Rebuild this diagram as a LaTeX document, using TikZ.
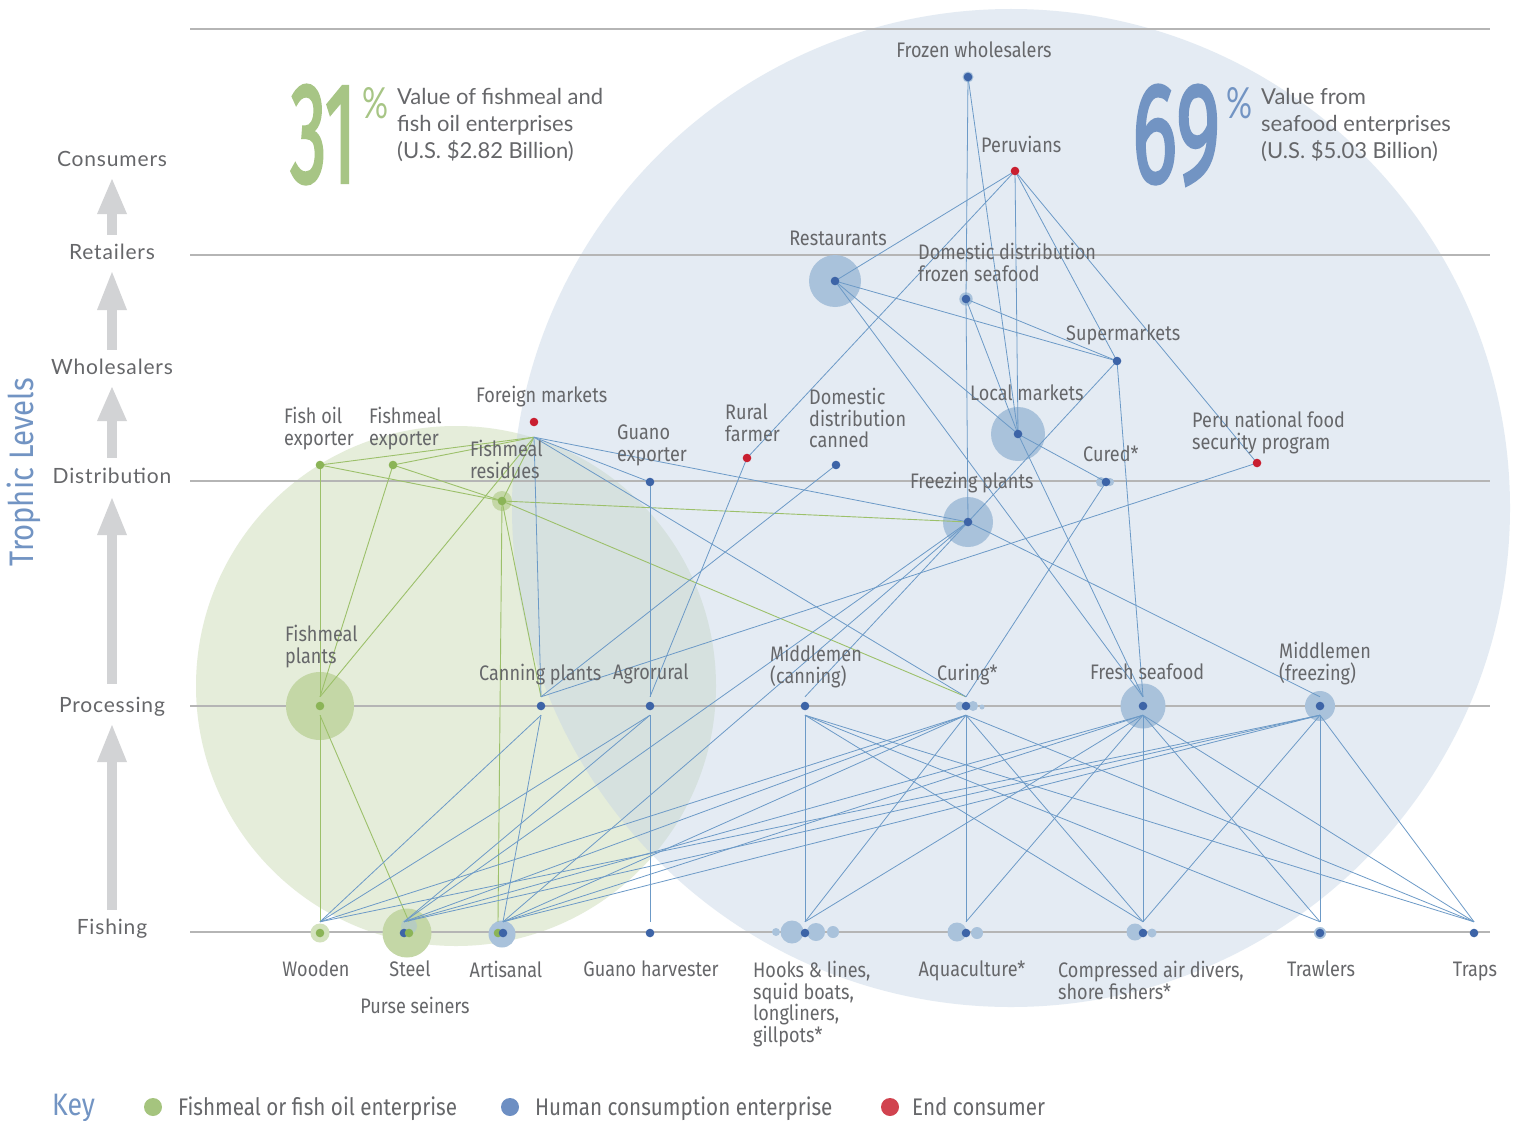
\documentclass[tikz,border=0pt]{standalone}
\usepackage{fontspec}
\setmainfont{Lato}
\newfontfamily\condf[FakeStretch=0.86]{Fira Sans}
\newfontfamily\numf[FakeBold=2.5]{Fira Sans}
\newfontfamily\levf[LetterSpace=4]{Lato}
\definecolor{txt}{HTML}{66676A}
\definecolor{gline}{HTML}{9CC06A}
\definecolor{bline}{HTML}{6C9AC7}
\definecolor{gdot}{HTML}{8BB457}
\definecolor{bdot}{HTML}{3D64A7}
\definecolor{rdot}{HTML}{C91F30}
\definecolor{gcirc}{HTML}{E5EDDA}
\definecolor{bcirc}{HTML}{C4D4E6}
\definecolor{ghalo}{HTML}{C4D7A6}
\definecolor{glight}{HTML}{D3E2BD}
\definecolor{bhalo}{HTML}{A9C2DB}
\definecolor{gridc}{HTML}{B5B5B5}
\definecolor{arrowc}{HTML}{D2D3D5}
\definecolor{numg}{HTML}{A7C585}
\definecolor{numb}{HTML}{7294C3}
\definecolor{keyg}{HTML}{A5C47E}
\definecolor{keyb}{HTML}{6D8FC3}
\definecolor{keyr}{HTML}{D1434F}
\pgfdeclarelayer{back}
\pgfdeclarelayer{halo}
\pgfdeclarelayer{edges}
\pgfsetlayers{back,halo,edges,main}
\newcommand\lvarrow[3]{% tip, head base, bottom
  \fill[arrowc] (107,#3) rectangle (117,#2);
  \fill[arrowc] (97,#2) -- (112,#1) -- (127,#2) -- cycle;}
\begin{document}
\begin{tikzpicture}[x=1pt,y=-1pt,
  hub/.style={circle,inner sep=0pt,minimum size=#1},
  lab/.style={font=\condf\fontsize{21}{21.5}\selectfont,text=txt,inner sep=0pt,align=left,anchor=north west,execute at begin node=\strut},
  labc/.style={lab,align=center,anchor=north},
  lev/.style={font=\levf\fontsize{21}{24}\selectfont,text=txt,inner sep=0pt,anchor=base},
  ge/.style={draw=gline,line width=0.9pt},
  be/.style={draw=bline,line width=0.8pt},
  gd/.style={fill=gdot},
  bd/.style={fill=bdot},
  rd/.style={fill=rdot},
  big/.style={inner sep=0pt,anchor=north west},
  toptext/.style={font=\fontsize{22}{27}\selectfont,text=txt,inner sep=0pt,align=left,anchor=north west,execute at begin node=\strut},
  keytext/.style={font=\condf\fontsize{24}{24}\selectfont,text=txt,inner sep=0pt,anchor=base west}
]
\useasboundingbox (0,0) rectangle (1517,1121);
\begin{pgfonlayer}{back}
\fill[white] (0,0) rectangle (1517,1121);
\fill[gcirc] (456,686) circle[radius=260pt];
\fill[bcirc,fill opacity=0.45] (1011,508) circle[radius=499pt];
\foreach \yy in {29,255,481,706,932} \draw[gridc,line width=1.1pt] (190,\yy) -- (1490,\yy);
\lvarrow{179}{214}{235}
\lvarrow{272}{310}{350}
\lvarrow{387}{421}{458}
\lvarrow{498}{535}{684}
\lvarrow{725}{762}{910}
\end{pgfonlayer}

% ---------- hubs (nodes) ----------
\node[hub=1pt] (frw) at (968,77) {};
\node[hub=1pt] (per) at (1015,171) {};
\node[hub=1pt] (rst) at (835,281) {};
\node[hub=1pt] (dfs) at (966,299) {};
\node[hub=1pt] (sup) at (1117,361) {};
\node[hub=1pt] (lmk) at (1018,434) {};
\node[hub=30pt] (fmk) at (534,422) {};
\node[hub=1pt] (foe) at (320,465) {};
\node[hub=1pt] (fme) at (393,465) {};
\node[hub=1pt] (res) at (502,501) {};
\node[hub=1pt] (gex) at (650,482) {};
\node[hub=1pt] (rfa) at (747,458) {};
\node[hub=1pt] (ddc) at (836,465) {};
\node[hub=1pt] (cur) at (1106,482) {};
\node[hub=1pt] (pnf) at (1257,463) {};
\node[hub=1pt] (frp) at (968,522) {};
\node[hub=18pt] (fmp) at (320,706) {};
\node[hub=18pt] (cnp) at (541,706) {};
\node[hub=18pt] (agr) at (650,706) {};
\node[hub=18pt] (mdc) at (805,706) {};
\node[hub=18pt] (crg) at (966,706) {};
\node[hub=18pt] (fsh) at (1143,706) {};
\node[hub=18pt] (mdf) at (1320,706) {};
\node[hub=22pt] (wod) at (320,933) {};
\node[hub=22pt] (stb) at (404,933) {};
\node[hub=22pt] (stg) at (409,933) {};
\node[hub=22pt] (arg) at (498,933) {};
\node[hub=22pt] (arb) at (503,933) {};
\node[hub=22pt] (gha) at (650,933) {};
\node[hub=22pt] (hoo) at (805,933) {};
\node[hub=22pt] (aqu) at (966,933) {};
\node[hub=22pt] (cad) at (1143,933) {};
\node[hub=22pt] (trw) at (1320,933) {};
\node[hub=22pt] (trp) at (1474,933) {};

% ---------- halos ----------
\begin{pgfonlayer}{halo}
\fill[ghalo] (fmp) circle[radius=34pt];
\fill[ghalo] (res) circle[radius=10pt];
\fill[glight] (wod) circle[radius=9.5pt];
\fill[ghalo] (407,933) circle[radius=24.5pt];
\fill[bhalo,fill opacity=0.5] (409,926) circle[radius=8pt];
\fill[bhalo] (502,934) circle[radius=13.5pt];
\fill[bhalo] (rst) circle[radius=26pt];
\fill[bhalo] (dfs) circle[radius=6.7pt];
\fill[bhalo] (frw) circle[radius=5.5pt];
\fill[bhalo] (lmk) circle[radius=27pt];
\fill[bhalo] (frp) circle[radius=25pt];
\fill[bhalo] (1101,482) circle[radius=5pt];
\fill[bhalo] (1110,482) circle[radius=4pt];
\fill[bhalo] (960,706) circle[radius=4.5pt];
\fill[bhalo] (973,706) circle[radius=5pt];
\fill[bhalo] (982,707) circle[radius=2.5pt];
\fill[bhalo] (fsh) circle[radius=22.5pt];
\fill[bhalo] (mdf) circle[radius=15pt];
\fill[bhalo] (776,932) circle[radius=4pt];
\fill[bhalo] (792,932) circle[radius=11.5pt];
\fill[bhalo] (816,932) circle[radius=9pt];
\fill[bhalo] (833,932) circle[radius=6pt];
\fill[bhalo] (957,932) circle[radius=9.5pt];
\fill[bhalo] (977,933) circle[radius=6pt];
\fill[bhalo] (1135,932) circle[radius=8.5pt];
\fill[bhalo] (1152,933) circle[radius=4.5pt];
\fill[bhalo] (trw) circle[radius=6pt];
\end{pgfonlayer}

% ---------- connectors ----------
\begin{pgfonlayer}{edges}
% fishmeal (green)
\draw[ge] (foe.center) -- (fmk.south);
\draw[ge] (foe.center) -- (res.center);
\draw[ge] (fme.center) -- (fmk.south);
\draw[ge] (fme.center) -- (res.center);
\draw[ge] (foe.center) -- (fmp.north);
\draw[ge] (fme.center) -- (fmp.north);
\draw[ge] (res.center) -- (fmk.south);
\draw[ge] (fmp.north) -- (fmk.south);
\draw[ge] (fmp.south) -- (wod.north);
\draw[ge] (fmp.south) -- (stg.north);
\draw[ge] (res.center) -- (arg.north);
\draw[ge] (res.center) -- (cnp.north);
\draw[ge] (res.center) -- (crg.north);
\draw[ge] (res.center) -- (frp.center);
% human consumption (blue)
\draw[be] (fmk.south) -- (gex.center);
\draw[be] (fmk.south) -- (frp.center);
\draw[be] (fmk.south) -- (crg.north);
\draw[be] (fmk.south) -- (cnp.north);
\draw[be] (gex.center) -- (agr.north);
\draw[be] (agr.south) -- (gha.north);
\draw[be] (rfa.center) -- (per.center);
\draw[be] (rfa.center) -- (agr.north);
\draw[be] (ddc.center) -- (cnp.north);
\draw[be] (pnf.center) -- (cnp.north);
\draw[be] (pnf.center) -- (per.center);
\draw[be] (frw.center) -- (dfs.center);
\draw[be] (frw.center) -- (lmk.center);
\draw[be] (per.center) -- (rst.center);
\draw[be] (per.center) -- (lmk.center);
\draw[be] (per.center) -- (sup.center);
\draw[be] (rst.center) -- (sup.center);
\draw[be] (rst.center) -- (lmk.center);
\draw[be] (rst.center) -- (fsh.north);
\draw[be] (dfs.center) -- (lmk.center);
\draw[be] (dfs.center) -- (sup.center);
\draw[be] (dfs.center) -- (frp.center);
\draw[be] (sup.center) -- (frp.center);
\draw[be] (sup.center) -- (fsh.north);
\draw[be] (lmk.center) -- (cur.center);
\draw[be] (lmk.center) -- (fsh.north);
\draw[be] (cur.center) -- (crg.north);
\draw[be] (frp.center) -- (mdc.north);
\draw[be] (frp.center) -- (stb.north);
\draw[be] (frp.center) -- (arb.north);
\draw[be] (frp.center) -- (mdf.north);
% processing -> fishing
\draw[be] (cnp.south) -- (wod.north);
\draw[be] (cnp.south) -- (arb.north);
\draw[be] (agr.south) -- (wod.north);
\draw[be] (agr.south) -- (stb.north);
\foreach \f in {wod,stb,arb,hoo,aqu,cad,trp} \draw[be] (crg.south) -- (\f.north);
\foreach \f in {stb,arb,hoo,aqu,cad,trw,trp} \draw[be] (fsh.south) -- (\f.north);
\foreach \f in {wod,stb,arb,cad,trw,trp} \draw[be] (mdf.south) -- (\f.north);
\foreach \f in {hoo,cad,trw,trp} \draw[be] (mdc.south) -- (\f.north);
\end{pgfonlayer}

% ---------- dots ----------
\foreach \n in {foe,fme,res,fmp,wod} \fill[gd] (\n) circle[radius=4.3pt];
\fill[bd] (stb) circle[radius=4.3pt];
\fill[gd] (stg) circle[radius=4.3pt];
\fill[gd] (arg) circle[radius=4.3pt];
\fill[bd] (arb) circle[radius=4.3pt];
\foreach \n in {frw,rst,dfs,sup,lmk,gex,ddc,cur,frp,cnp,agr,mdc,crg,fsh,mdf,gha,hoo,aqu,cad,trw,trp} \fill[bd] (\n) circle[radius=4.3pt];
\foreach \n in {fmk,per,rfa,pnf} \fill[rd] (\n) circle[radius=4.3pt];

% ---------- labels ----------
\node[labc] (lfrw) at (974,42) {Frozen wholesalers};
\node[lab] (lper) at (981,136) {Peruvians};
\node[labc] (lrst) at (838,230) {Restaurants};
\node[lab] (ldfs) at (918,243) {Domestic distribution\\frozen seafood};
\node[lab] (lsup) at (1066,325) {Supermarkets};
\node[lab] (llmk) at (970,385) {Local markets};
\node[lab] (lfmk) at (476,386) {Foreign markets};
\node[lab] (lfoe) at (284,407) {Fish oil\\exporter};
\node[lab] (lfme) at (369,407) {Fishmeal\\exporter};
\node[lab] (lres) at (470,440) {Fishmeal\\residues};
\node[lab] (lgex) at (617,425) {Guano\\exporter};
\node[lab] (lrfa) at (725,404) {Rural\\farmer};
\node[lab] (lddc) at (809,388) {Domestic\\distribution\\canned};
\node[lab] (lpnf) at (1192,411) {Peru national food\\security program};
\node[lab] (lcur) at (1083,446) {Cured*};
\node[lab] (lfrp) at (910,472) {Freezing plants};
\node[lab] (lfmp) at (285,625) {Fishmeal\\plants};
\node[lab] (lcnp) at (479,664) {Canning plants};
\node[lab] (lagr) at (613,664) {Agrorural};
\node[lab] (lmdc) at (770,645) {Middlemen\\(canning)};
\node[lab] (lcrg) at (937,664) {Curing*};
\node[lab] (lfsh) at (1090,664) {Fresh seafood};
\node[lab] (lmdf) at (1279,642) {Middlemen\\(freezing)};
\node[labc] (lwod) at (316,961) {Wooden};
\node[labc] (lstl) at (410,961) {Steel};
\node[labc] (lpur) at (415,997) {Purse seiners};
\node[labc] (lart) at (506,961) {Artisanal};
\node[labc] (lgha) at (651,961) {Guano harvester};
\node[lab] (lhoo) at (753,961) {Hooks \& lines,\\squid boats,\\longliners,\\gillpots*};
\node[labc] (laqu) at (972,961) {Aquaculture*};
\node[lab] (lcad) at (1058,961) {Compressed air divers,\\shore fishers*};
\node[labc] (ltrw) at (1321,961) {Trawlers};
\node[labc] (ltrp) at (1475,961) {Traps};

% level labels
\node[lev] (v1) at (112,166) {Consumers};
\node[lev] (v2) at (112,259) {Retailers};
\node[lev] (v3) at (112,374) {Wholesalers};
\node[lev] (v4) at (112,483) {Distribution};
\node[lev] (v5) at (112,712) {Processing};
\node[lev] (v6) at (112,934) {Fishing};
\node[rotate=90,text=numb,font=\condf\fontsize{34}{34}\selectfont,inner sep=0pt] (trl) at (24,472) {Trophic Levels};

% big figures
\node[big,text=numg] (n31) at (290,85) {\resizebox{66pt}{97pt}{\numf 31}};
\node[big,text=numg] (p31) at (362,87) {\resizebox{26pt}{31pt}{\%}};
\node[toptext] (t31) at (397,88) {Value of fishmeal and\\fish oil enterprises\\(U.S. \$2.82 Billion)};
\node[big,text=numb] (n69) at (1132,85) {\resizebox{88pt}{97pt}{\numf 69}};
\node[big,text=numb] (p69) at (1226,87) {\resizebox{26pt}{31pt}{\%}};
\node[toptext] (t69) at (1261,88) {Value from\\seafood enterprises\\(U.S. \$5.03 Billion)};

% key
\node[font=\condf\fontsize{31}{31}\selectfont,text=numb,inner sep=0pt,anchor=base west] (key) at (52,1115) {Key};
\fill[keyg] (153,1107) circle[radius=9pt];
\node[keytext] (k1) at (178,1115) {Fishmeal or fish oil enterprise};
\fill[keyb] (510,1107) circle[radius=9pt];
\node[keytext] (k2) at (535,1115) {Human consumption enterprise};
\fill[keyr] (890,1107) circle[radius=9pt];
\node[keytext] (k3) at (912,1115) {End consumer};
\end{tikzpicture}
\end{document}
